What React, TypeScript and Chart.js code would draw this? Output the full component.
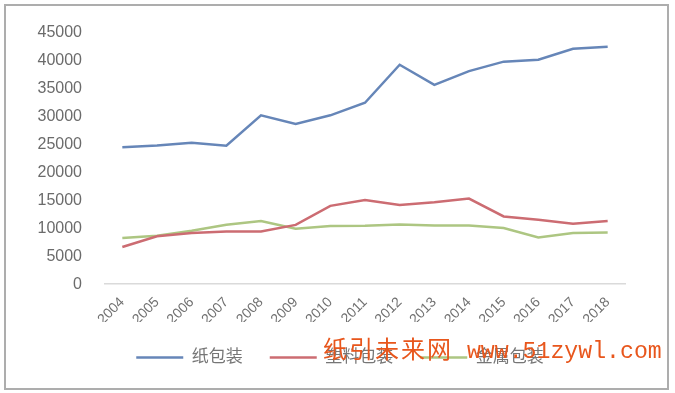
import React, { useEffect, useRef } from "react";
import { Chart, registerables } from "chart.js";

Chart.register(...registerables);

const years = ["2004","2005","2006","2007","2008","2009","2010","2011","2012","2013","2014","2015","2016","2017","2018"];
const paper = [24500,24800,25300,24750,30200,28650,30200,32450,39250,35650,38100,39800,40150,42100,42450];
const plastic = [6650,8550,9150,9400,9400,10600,14000,15050,14150,14650,15300,12100,11500,10800,11300];
const metal = [8250,8650,9550,10600,11300,9900,10400,10450,10650,10500,10500,10050,8350,9150,9250];
const seriesNames = ["纸包装","塑料包装","金属包装"];
const yMax = 45000;
const yStep = 5000;
const watermarkCn = "纸引未来网";
const watermarkUrl = " www.51zywl.com";

export default function App() {
  const ref = useRef<HTMLCanvasElement | null>(null);
  useEffect(() => {
    if (!ref.current) return;
    const font = "'Liberation Sans', 'Noto Sans CJK SC', sans-serif";
    const chart = new Chart(ref.current, {
      type: "line",
      data: {
        labels: years,
        datasets: [
          { label: seriesNames[0], data: paper, borderColor: "#6686b8", backgroundColor: "#6686b8", borderWidth: 2.5, pointRadius: 0, tension: 0 },
          { label: seriesNames[1], data: plastic, borderColor: "#cc6c72", backgroundColor: "#cc6c72", borderWidth: 2.5, pointRadius: 0, tension: 0 },
          { label: seriesNames[2], data: metal, borderColor: "#adc682", backgroundColor: "#adc682", borderWidth: 2.5, pointRadius: 0, tension: 0 },
        ],
      },
      options: {
        animation: false,
        responsive: false,
        maintainAspectRatio: false,
        layout: { padding: { left: 37, right: 32, top: 30, bottom: 17 } },
        plugins: {
          tooltip: { enabled: false },
          legend: {
            position: "bottom",
            labels: {
              usePointStyle: true,
              pointStyle: "line",
              pointStyleWidth: 47,
              boxHeight: 17,
              padding: 27,
              color: "#767676",
              font: { family: font, size: 17 },
            },
          },
        },
        scales: {
          x: {
            offset: true,
            grid: { display: false, drawTicks: false },
            border: { display: true, color: "#dadada", width: 1.5 },
            ticks: { color: "#707070", font: { family: font, size: 14 }, minRotation: 45, maxRotation: 45, padding: 10 },
            afterFit: (s: any) => { s.paddingLeft = 0; s.paddingRight = 0; s.height = s.height - 16; },
          },
          y: {
            min: 0,
            max: yMax,
            grid: { display: false, drawTicks: false },
            border: { display: false },
            ticks: { stepSize: yStep, color: "#6b6b6b", font: { family: font, size: 16 }, padding: 23, callback: (v: any) => String(v) },
            afterFit: (s: any) => { s.width = 68; },
          },
          y2: {
            position: "right",
            display: true,
            min: 0,
            max: yMax,
            grid: { display: false, drawTicks: false },
            border: { display: false },
            ticks: { display: false },
            afterFit: (s: any) => { s.width = 18; },
          },
        },
      },
    });
    return () => chart.destroy();
  }, []);
  return (
    <div style={{ position: "fixed", left: 0, top: 0, width: 675, height: 393, background: "#fff" }}>
      <div style={{ position: "absolute", left: 4, top: 4, width: 665, height: 386, border: "2px solid #adadad", boxSizing: "border-box" }} />
      <canvas ref={ref} width={675} height={393} style={{ position: "absolute", left: 0, top: 0, width: 675, height: 393 }} />
      <div style={{ position: "absolute", left: 323, top: 337, fontFamily: "'Liberation Mono', 'Noto Sans CJK SC', monospace", color: "#e8561c", whiteSpace: "pre", lineHeight: "30px" }}>
        <span style={{ fontSize: 24, letterSpacing: 2 }}>{watermarkCn}</span>
        <span style={{ fontSize: 23.2 }}>{watermarkUrl}</span>
      </div>
    </div>
  );
}
